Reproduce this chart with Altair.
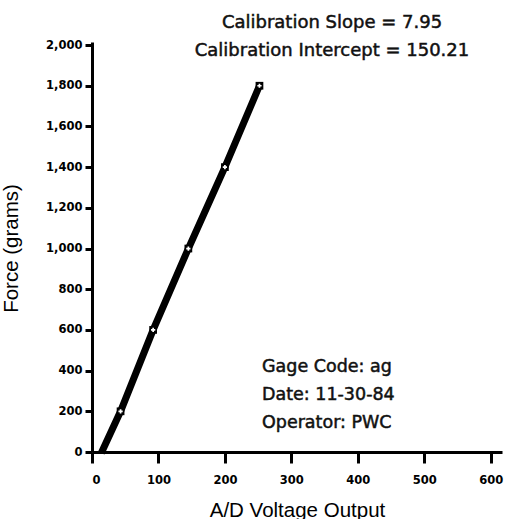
import altair as alt
import pandas as pd

# calibration points
ad_points = [43, 92, 145, 200, 252]
force_points = [200, 600, 1000, 1400, 1800]

# fitted line (drawn through the points, starting just below zero)
line_ad = [14, 43, 92, 145, 200, 252]
line_force = [-5, 200, 600, 1000, 1400, 1800]

x_ticks = [0, 100, 200, 300, 400, 500, 600]
y_ticks = [0, 200, 400, 600, 800, 1000, 1200, 1400, 1600, 1800, 2000]

pts = pd.DataFrame({"ad": ad_points, "force": force_points})
ln = pd.DataFrame({"ad": line_ad, "force": line_force, "order": list(range(len(line_ad)))})

xs = alt.Scale(domain=[0, 617], nice=False, zero=False)
ys = alt.Scale(domain=[0, 2015], nice=False, zero=False)

x_axis = alt.Axis(values=x_ticks, title="A/D Voltage Output", tickSize=11,
                  labelPadding=11, titleBaseline="alphabetic", titleY=64, format="d")
y_axis = alt.Axis(values=y_ticks, title="Force (grams)", tickSize=7, labelPadding=3,
                  format=",d", titleX=-71, titleY=206)

line = alt.Chart(ln).mark_line(color="black", strokeWidth=7, clip=False).encode(
    x=alt.X("ad:Q", scale=xs, axis=x_axis),
    y=alt.Y("force:Q", scale=ys, axis=y_axis),
    order="order:O",
)

sq = alt.Chart(pts).mark_point(shape="square", filled=True, color="black", size=60, opacity=1).encode(
    x=alt.X("ad:Q", scale=xs), y=alt.Y("force:Q", scale=ys)
)
cr = alt.Chart(pts).mark_point(shape="cross", filled=True, color="white", size=18, opacity=1).encode(
    x=alt.X("ad:Q", scale=xs), y=alt.Y("force:Q", scale=ys)
)

def note(text, x, y, align, size):
    return alt.Chart(pd.DataFrame({"t": [text]})).mark_text(
        align=align, baseline="alphabetic", font="DejaVu Sans", fontSize=size,
        color="#111111", stroke="#111111", strokeWidth=0.5
    ).encode(text="t:N", x=alt.value(x), y=alt.value(y))

notes = [
    note("Calibration Slope = 7.95", 240, -14, "center", 18),
    note("Calibration Intercept = 150.21", 240, 14, "center", 18),
    note("Gage Code: ag", 170, 330, "left", 17.5),
    note("Date: 11-30-84", 170, 358, "left", 17.5),
    note("Operator: PWC", 170, 386, "left", 17.5),
]

chart = alt.layer(line, sq, cr, *notes).properties(
    width=410, height=410,
    background="white",
    autosize=alt.AutoSizeParams(type="none"),
    padding={"left": 92, "top": 42, "right": 4, "bottom": 67},
).configure_view(stroke=None).configure_axis(
    grid=False,
    domainColor="black", domainWidth=3,
    tickColor="black", tickWidth=3,
    labelColor="black", labelFont="DejaVu Sans", labelFontWeight="bold", labelFontSize=11.5,
    titleColor="black", titleFont="Liberation Sans", titleFontSize=20.5, titleFontWeight="normal",
)

chart.save("out.html", embed_options={"renderer": "svg", "actions": False})
